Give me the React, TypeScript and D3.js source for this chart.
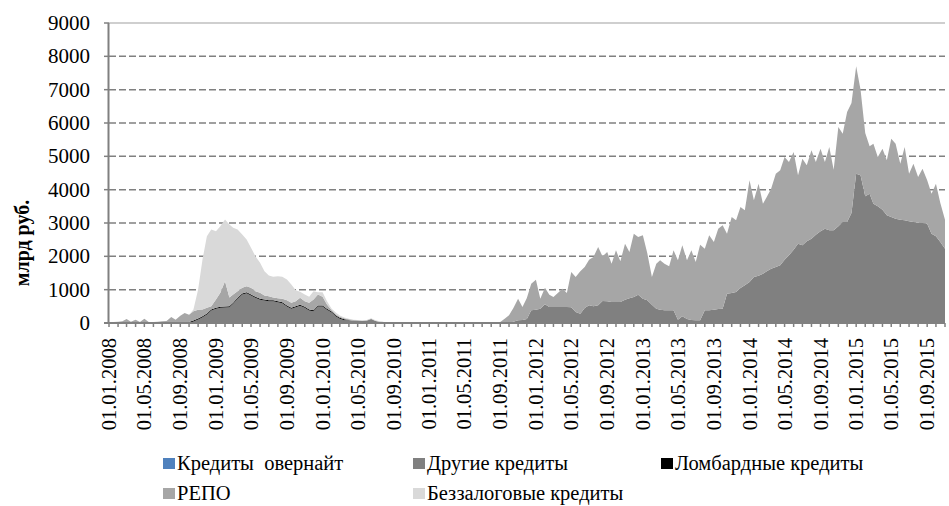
import React from "react";
import * as d3 from "d3";

// Half-month observations: 1st and 16th of each month, Jan 2008 .. 1 Nov 2015 (189 points)
const OBS_COUNT = 189;

// Другие кредиты (bn RUB), by year
const otherCredits: number[] = [
  // 2008
  0, 0, 0, 0, 0, 0, 0, 0, 0, 0, 0, 0, 0, 0, 0, 0, 0, 0, 0, 45, 105, 175, 255, 375,
  // 2009
  425, 455, 465, 475, 575, 725, 855, 895, 825, 755, 695, 675, 655, 655, 625, 595, 495, 425, 475, 515, 455, 375, 355, 495,
  // 2010
  495, 395, 315, 195, 125, 85, 90, 70, 60, 60, 70, 120, 60, 30, 10, 10, 10, 10, 10, 10, 10, 10, 10, 10,
  // 2011
  10, 10, 10, 10, 10, 10, 10, 10, 10, 10, 10, 10, 10, 10, 10, 10, 10, 10, 10, 40, 80, 90, 120, 380,
  // 2012
  400, 430, 560, 480, 480, 480, 480, 480, 470, 330, 280, 450, 530, 500, 530, 660, 650, 630, 630, 630, 700, 740, 780, 850,
  // 2013
  730, 680, 550, 430, 400, 380, 380, 380, 100, 200, 120, 90, 80, 80, 380, 380, 400, 420, 430, 880, 900, 930, 1050, 1130,
  // 2014
  1230, 1380, 1420, 1480, 1550, 1630, 1680, 1730, 1900, 2030, 2200, 2380, 2330, 2450, 2530, 2650, 2750, 2830, 2780, 2780, 2900, 3030, 3030, 3300,
  // 2015
  4480, 4430, 3800, 3880, 3580, 3500, 3400, 3230, 3180, 3130, 3100, 3080, 3050, 3030, 3010, 3000, 2980, 2680, 2600, 2430, 2230,
];

// Ломбардные кредиты
const lombardCredits: number[] = [
  // 2008
  0, 0, 0, 0, 0, 0, 0, 0, 0, 0, 0, 0, 0, 0, 0, 0, 0, 0, 30, 30, 30, 30, 30, 30,
  // 2009
  30, 30, 30, 30, 30, 30, 30, 30, 30, 30, 30, 30, 30, 30, 30, 30, 30, 30, 30, 30, 30, 30, 30, 30,
  // 2010
  30, 30, 30, 30, 30, 30, 0, 0, 0, 0, 0, 0, 0, 0, 0, 0, 0, 0, 0, 0, 0, 0, 0, 0,
  // 2011
  0, 0, 0, 0, 0, 0, 0, 0, 0, 0, 0, 0, 0, 0, 0, 0, 0, 0, 0, 0, 0, 0, 0, 0,
  // 2012
  0, 0, 0, 0, 0, 0, 0, 0, 0, 0, 0, 0, 0, 0, 0, 0, 0, 0, 0, 0, 0, 0, 0, 0,
  // 2013
  0, 0, 0, 0, 0, 0, 0, 0, 0, 0, 0, 0, 0, 0, 0, 0, 0, 0, 0, 0, 0, 0, 0, 0,
  // 2014
  0, 0, 0, 0, 0, 0, 0, 0, 0, 0, 0, 0, 0, 0, 0, 0, 0, 0, 0, 0, 0, 0, 0, 0,
  // 2015
  0, 0, 0, 0, 0, 0, 0, 0, 0, 0, 0, 0, 0, 0, 0, 0, 0, 0, 0, 0, 0,
];

// РЕПО
const repoCredits: number[] = [
  // 2008
  20, 30, 40, 50, 120, 40, 100, 30, 130, 30, 30, 40, 50, 60, 180, 100, 220, 300, 220, 280, 260, 200, 170, 100,
  // 2009
  250, 420, 760, 260, 250, 200, 170, 180, 200, 170, 180, 120, 120, 80, 90, 100, 160, 150, 150, 210, 170, 200, 320, 330,
  // 2010
  260, 130, 40, 30, 30, 30, 20, 20, 20, 10, 10, 10, 10, 10, 20, 20, 20, 20, 20, 20, 20, 20, 20, 20,
  // 2011
  20, 20, 20, 20, 20, 20, 20, 20, 20, 20, 20, 20, 20, 20, 20, 20, 20, 120, 220, 410, 650, 390, 630, 800,
  // 2012
  900, 300, 500, 370, 300, 420, 550, 420, 1060, 1050, 1270, 1230, 1370, 1480, 1750, 1340, 1480, 1150, 1550, 1220, 1680, 1390, 1900, 1730,
  // 2013
  1900, 1420, 830, 1350, 1480, 1400, 1320, 1800, 1780, 2130, 1760, 2090, 1750, 2270, 1850, 2250, 2030, 2410, 2500, 1800, 2280, 2150, 2430, 2250,
  // 2014
  3050, 2300, 2760, 2100, 2230, 2400, 2800, 2850, 3080, 2800, 2930, 2050, 2600, 2280, 2650, 2180, 2480, 2000, 2500, 1820, 2980, 2650, 3300, 3300,
  // 2015
  3220, 2570, 1900, 1420, 1800, 1480, 1830, 1650, 2350, 2250, 1680, 2200, 1430, 1750, 1370, 1630, 1300, 1200, 1580, 1170, 870,
];

// Беззалоговые кредиты
const unsecuredCredits: number[] = [
  // 2008
  0, 0, 0, 0, 0, 0, 0, 0, 0, 0, 0, 0, 0, 0, 0, 0, 0, 0, 0, 50, 610, 1500, 2150, 2300,
  // 2009
  2050, 2000, 1850, 2190, 2000, 1850, 1600, 1400, 1200, 1050, 900, 730, 620, 620, 660, 660, 620, 550, 330, 180, 200, 180, 250, 70,
  // 2010
  140, 100, 40, 50, 40, 20, 20, 10, 10, 10, 10, 10, 10, 10, 0, 0, 0, 0, 0, 0, 0, 0, 0, 0,
  // 2011
  0, 0, 0, 0, 0, 0, 0, 0, 0, 0, 0, 0, 0, 0, 0, 0, 0, 0, 0, 0, 0, 0, 0, 0,
  // 2012
  0, 0, 0, 0, 0, 0, 0, 0, 0, 0, 0, 0, 0, 0, 0, 0, 0, 0, 0, 0, 0, 0, 0, 0,
  // 2013
  0, 0, 0, 0, 0, 0, 0, 0, 0, 0, 0, 0, 0, 0, 0, 0, 0, 0, 0, 0, 0, 0, 0, 0,
  // 2014
  0, 0, 0, 0, 0, 0, 0, 0, 0, 0, 0, 0, 0, 0, 0, 0, 0, 0, 0, 0, 0, 0, 0, 0,
  // 2015
  0, 0, 0, 0, 0, 0, 0, 0, 0, 0, 0, 0, 0, 0, 0, 0, 0, 0, 0, 0, 0,
];

const yTicks = [0, 1000, 2000, 3000, 4000, 5000, 6000, 7000, 8000, 9000];
const yTitle = "млрд руб.";

const legendItems = [
  { label: "Кредиты  овернайт", color: "#4f81bd" },
  { label: "Другие кредиты", color: "#808080" },
  { label: "Ломбардные кредиты", color: "#000000" },
  { label: "РЕПО", color: "#a6a6a6" },
  { label: "Беззалоговые кредиты", color: "#d9d9d9" },
];

const seriesKeys = ["other", "lombard", "repo", "unsecured"];
const seriesColors: Record<string, string> = {
  other: "#808080",
  lombard: "#000000",
  repo: "#a6a6a6",
  unsecured: "#d9d9d9",
};

const FONT = "Liberation Serif";

export default function App() {
  const W = 949;
  const H = 506;
  const left = 109;
  const right = 945;
  const top = 23;
  const bottom = 323;

  const dates = d3.range(OBS_COUNT).map(
    (i) => new Date(2008, Math.floor(i / 2), i % 2 === 0 ? 1 : 16)
  );
  const rows = dates.map((d, i) => ({
    date: d,
    other: otherCredits[i] ?? 0,
    lombard: lombardCredits[i] ?? 0,
    repo: repoCredits[i] ?? 0,
    unsecured: unsecuredCredits[i] ?? 0,
  }));

  const x = d3
    .scaleTime()
    .domain([new Date(2008, 0, 1), new Date(2015, 10, 1)])
    .range([left, right]);
  const y = d3.scaleLinear().domain([0, 9000]).range([bottom, top]);

  const stack = d3.stack<any>().keys(seriesKeys);
  const layers = stack(rows);
  const area = d3
    .area<any>()
    .x((d) => x(d.data.date))
    .y0((d) => y(d[0]))
    .y1((d) => y(d[1]))
    .curve(d3.curveLinear);

  const labelDates = d3.timeMonth.every(4)!.range(new Date(2008, 0, 1), new Date(2015, 9, 2));
  const minorDates = d3.timeMonth.range(new Date(2008, 0, 1), new Date(2015, 10, 2));
  const fmt = d3.timeFormat("%d.%m.%Y");

  const legendPos = [
    { x: 163, y: 463 },
    { x: 413, y: 463 },
    { x: 661, y: 463 },
    { x: 163, y: 493 },
    { x: 413, y: 493 },
  ];

  return (
    <svg width={W} height={H} style={{ display: "block", position: "absolute", left: 0, top: 0 }}>
      <rect x={0} y={0} width={W} height={H} fill="#ffffff" />
      {/* gridlines */}
      {yTicks.slice(1).map((t) =>
        t === 9000 ? (
          <line key={t} x1={left} x2={right} y1={y(t)} y2={y(t)} stroke="#bfbfbf" strokeWidth={1.5} />
        ) : (
          <line
            key={t}
            x1={left}
            x2={right}
            y1={y(t)}
            y2={y(t)}
            stroke="#808080"
            strokeWidth={1.5}
            strokeDasharray="7,3"
          />
        )
      )}
      {/* areas */}
      {layers.map((layer) => (
        <path key={layer.key} d={area(layer) || ""} fill={seriesColors[layer.key]} stroke="none" />
      ))}
      {/* axes */}
      <line x1={left - 0.5} x2={left - 0.5} y1={top} y2={bottom + 1} stroke="#808080" strokeWidth={2} />
      <line x1={left - 5} x2={right} y1={bottom} y2={bottom} stroke="#808080" strokeWidth={2} />
      {yTicks.map((t) => (
        <line key={"yt" + t} x1={left - 5} x2={left} y1={y(t)} y2={y(t)} stroke="#808080" strokeWidth={1.5} />
      ))}
      {minorDates.map((d, i) => (
        <line key={"mt" + i} x1={x(d)} x2={x(d)} y1={bottom} y2={bottom + 4} stroke="#808080" strokeWidth={1.5} />
      ))}
      {yTicks.map((t) => (
        <text
          key={"yl" + t}
          x={90}
          y={y(t)}
          textAnchor="end"
          dominantBaseline="central"
          style={{ fontFamily: FONT }}
          fontSize={21}
          fill="#000"
        >
          {t}
        </text>
      ))}
      {labelDates.map((d, i) => (
        <text
          key={"xl" + i}
          transform={`translate(${x(d)},${bottom + 15}) rotate(-90)`}
          textAnchor="end"
          dominantBaseline="central"
          style={{ fontFamily: FONT }}
          fontSize={20.5}
          fill="#000"
        >
          {fmt(d)}
        </text>
      ))}
      <text
        transform={`translate(22,243) rotate(-90)`}
        textAnchor="middle"
        dominantBaseline="central"
        style={{ fontFamily: FONT }}
        fontSize={20}
        fontWeight="bold"
        fill="#000"
      >
        {yTitle}
      </text>
      {legendItems.map((item, i) => (
        <g key={"lg" + i}>
          <rect x={legendPos[i].x} y={legendPos[i].y - 5} width={12} height={11} fill={item.color} />
          <text
            x={legendPos[i].x + 14}
            y={legendPos[i].y}
            dominantBaseline="central"
            style={{ fontFamily: FONT, whiteSpace: "pre" }}
            fontSize={20.5}
            fill="#000"
          >
            {item.label}
          </text>
        </g>
      ))}
    </svg>
  );
}
